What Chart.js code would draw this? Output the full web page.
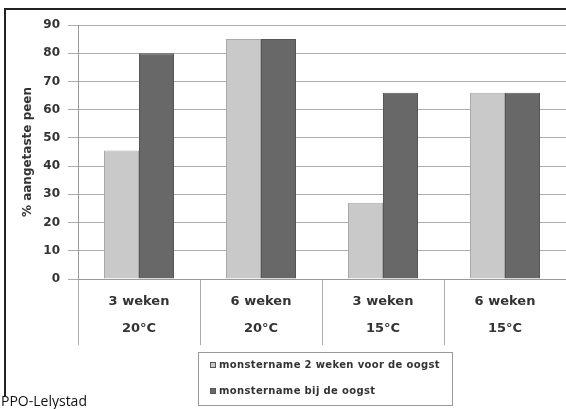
<!DOCTYPE html>
<html>
<head>
<meta charset="utf-8">
<script src="https://cdn.jsdelivr.net/npm/chart.js@4/dist/chart.umd.min.js"></script>
<style>
  html, body { margin: 0; padding: 0; background: #fff; }
  #wrap { position: relative; width: 566px; height: 409px; overflow: hidden; }
  #c { position: absolute; left: 0; top: 0; }
  #frameTop { position: absolute; left: 4px; top: 8px; width: 570px; height: 0; border-top: 2px solid #222; }
  #frameLeft { position: absolute; left: 4px; top: 8px; width: 0; height: 388px; border-left: 2px solid #222; }
  #credit { position: absolute; left: 1px; top: 391px; font-family: "Open Sans", sans-serif; font-size: 14px; color: #111; line-height: 19px; }
</style>
</head>
<body>
<div id="wrap">
  <canvas id="c" width="566" height="409"></canvas>
  <div id="frameTop"></div>
  <div id="frameLeft"></div>
  <div id="credit">PPO-Lelystad</div>
</div>
<script>
// ---- data ----
const weeks = ['3 weken', '6 weken', '3 weken', '6 weken'];
const temps = ['20°C', '20°C', '15°C', '15°C'];
const seriesNames = ['monstername 2 weken voor de oogst', 'monstername bij de oogst'];
const before2Weeks = [45.5, 85, 27, 66];
const atHarvest = [80, 85, 66, 66];
const yTicks = [0, 10, 20, 30, 40, 50, 60, 70, 80, 90];
const yTitle = '% aangetaste peen';

const labels = weeks.map((w, i) => [w, temps[i]]);

const legendPlugin = {
  id: 'boxLegend',
  afterDraw(chart) {
    const ctx = chart.ctx;
    const bx = 198, by = 352, bw = 254, bh = 53;
    ctx.save();
    ctx.strokeStyle = '#9a9a9a';
    ctx.lineWidth = 1;
    ctx.strokeRect(bx + 0.5, by + 0.5, bw, bh);
    ctx.font = 'bold 10px "DejaVu Sans"';
    try { ctx.letterSpacing = '0.35px'; } catch (e) {}
    ctx.textBaseline = 'middle';
    chart.data.datasets.forEach((ds, i) => {
      const cy = by + 13 + i * 26;
      ctx.fillStyle = ds.backgroundColor;
      ctx.fillRect(210, cy - 3, 6, 6);
      ctx.strokeStyle = '#555';
      ctx.strokeRect(210.5, cy - 2.5, 5, 5);
      ctx.fillStyle = '#333';
      ctx.fillText(ds.label, 219, cy);
    });
    ctx.restore();
  }
};

new Chart(document.getElementById('c'), {
  type: 'bar',
  data: {
    labels: labels,
    datasets: [
      { label: seriesNames[0], data: before2Weeks, backgroundColor: '#c9c9c9', borderColor: '#a9a9a9', borderWidth: 1 },
      { label: seriesNames[1], data: atHarvest, backgroundColor: '#686868', borderColor: '#555555', borderWidth: 1 }
    ]
  },
  options: {
    responsive: false,
    animation: false,
    devicePixelRatio: 1,
    layout: { padding: { left: 0, right: 0, top: 25, bottom: 0 } },
    plugins: { legend: { display: false }, tooltip: { enabled: false } },
    datasets: { bar: { categoryPercentage: 0.574, barPercentage: 1.0 } },
    scales: {
      y: {
        min: 0, max: 90,
        afterBuildTicks(scale) { scale.ticks = yTicks.map(v => ({ value: v })); },
        afterFit(scale) { scale.width = 78; },
        ticks: { color: '#333', font: { family: 'DejaVu Sans', size: 12, weight: 'bold' }, padding: 8 },
        grid: { color: '#acacac', lineWidth: 1, tickLength: 10 },
        border: { color: '#9a9a9a', width: 1 },
        title: { display: true, text: yTitle, color: '#333', font: { family: 'DejaVu Sans', size: 12, weight: 'bold' }, padding: { top: 21, bottom: 0 } }
      },
      x: {
        afterFit(scale) { scale.height = 130; },
        ticks: { color: '#333', font: { family: 'DejaVu Sans', size: 13, weight: 'bold', lineHeight: 2.1 }, padding: -57, maxRotation: 0, autoSkip: false },
        grid: { offset: true, drawOnChartArea: false, drawTicks: true, tickLength: 66, color: '#acacac', lineWidth: 1 },
        border: { color: '#9a9a9a', width: 1 }
      }
    }
  },
  plugins: [legendPlugin]
});
</script>
</body>
</html>
